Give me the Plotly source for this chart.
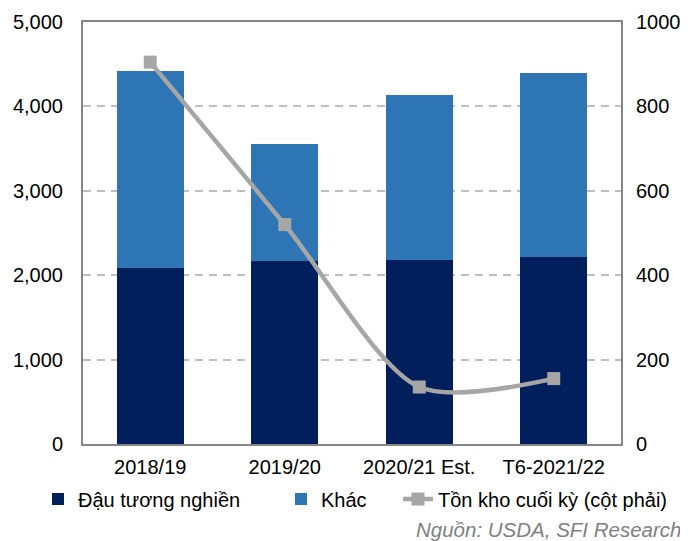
import plotly.graph_objects as go

categories = ["2018/19", "2019/20", "2020/21 Est.", "T6-2021/22"]
crush = [2090, 2170, 2180, 2220]
other = [2330, 1380, 1950, 2180]
stocks = [905, 520, 135, 155]

FONT = "Liberation Sans, Arial, sans-serif"

fig = go.Figure()
fig.add_trace(go.Bar(x=categories, y=crush, name="Đậu tương nghiền", legend="legend",
                     showlegend=True,
                     marker=dict(color="#001F5C", line=dict(width=0))))
fig.add_trace(go.Bar(x=categories, y=other, name="Khác", legend="legend2",
                     showlegend=True,
                     marker=dict(color="#2E75B6", line=dict(width=0))))
fig.add_trace(go.Scatter(x=categories, y=stocks, name="Tồn kho cuối kỳ (cột phải)",
                         yaxis="y2", mode="lines+markers", legend="legend3",
                         showlegend=True,
                         line=dict(color="#A6A6A6", width=4.5, shape="spline", smoothing=0.8),
                         marker=dict(symbol="square", size=13, color="#A6A6A6")))

LEG_Y = 1 - 491 / 533
def leg(xpix):
    return dict(orientation="h", xref="container", yref="container", visible=True,
                x=(xpix - 8) / 680, xanchor="left", y=LEG_Y, yanchor="middle",
                font=dict(size=20), bgcolor="rgba(0,0,0,0)")

fig.update_layout(
    width=680, height=533, showlegend=True,
    margin=dict(l=75, r=67, t=14, b=97, autoexpand=False),
    barmode="stack", bargap=0.5,
    plot_bgcolor="white", paper_bgcolor="white",
    font=dict(family=FONT, size=20, color="black"),
    xaxis=dict(showline=True, linecolor="#868686", linewidth=2, mirror=True,
               ticks="", tickfont=dict(size=20), ticklabelstandoff=4),
    yaxis=dict(range=[0, 5000], dtick=1000, tickformat=",d",
               showgrid=True, gridcolor="#BFBFBF", griddash="8px,6px", gridwidth=1.5,
               showline=True, linecolor="#868686", linewidth=2,
               ticks="", tickfont=dict(size=20), zeroline=False, ticklabelstandoff=14),
    yaxis2=dict(range=[0, 1000], dtick=200, overlaying="y", side="right",
                showgrid=False, showline=True, linecolor="#868686", linewidth=2,
                ticks="", tickfont=dict(size=20), zeroline=False, ticklabelstandoff=9),
    legend=leg(38),
    legend2=leg(281),
    legend3=leg(398),
    annotations=[dict(text="<i>Nguồn: USDA, SFI Research</i>", xref="paper", yref="paper",
                      x=(683 - 83) / 538, y=-(529 - 444) / 422, xanchor="right",
                      yanchor="middle", showarrow=False,
                      font=dict(size=20.5, color="#7F7F7F", family=FONT))],
)

fig.write_html("out.html")
